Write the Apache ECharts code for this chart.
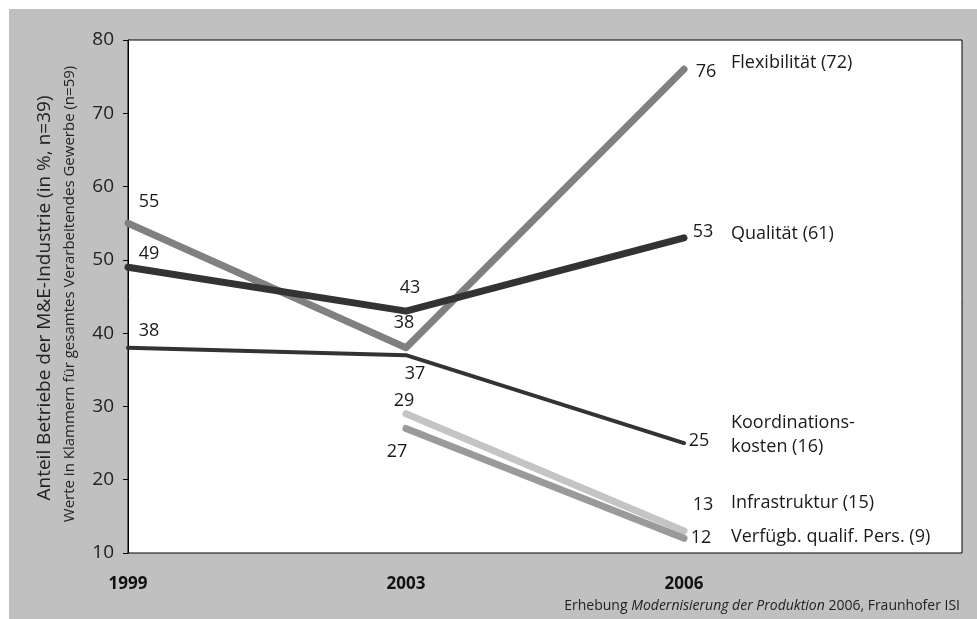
<!DOCTYPE html>
<html>
<head>
<meta charset="utf-8">
<script src="https://cdn.jsdelivr.net/npm/echarts@6/dist/echarts.min.js"></script>
<style>
html,body{margin:0;padding:0;background:#fff;}
#chart{width:977px;height:619px;}
</style>
</head>
<body>
<div id="chart"></div>
<script>
// ---- data ----
var years = ['1999', '2003', '2006'];
var yTicks = [10, 20, 30, 40, 50, 60, 70, 80];
var flexibilitaet = [55, 38, 76];
var qualitaet = [49, 43, 53];
var koordination = [38, 37, 25];
var infrastruktur = [null, 29, 13];
var personal = [null, 27, 12];
var seriesNames = ['Flexibilität (72)', 'Qualität (61)', 'Koordinations-\nkosten (16)', 'Infrastruktur (15)', 'Verfügb. qualif. Pers. (9)'];

var FONT = '"Open Sans", "Noto Sans", sans-serif';

// label offsets per point (style, not data)
var labelOffsets = [
  [[21, -21], [-2, -25], [22, 3]],
  [[21, -13], [4, -23], [19, -6]],
  [[21, -17], [9, 19], [15, -2]],
  [null, [-2, -13], [19, -26]],
  [null, [-9, 23], [17, 0]]
];
var endOffsets = [[39, -6], [39, -4], [39, -8], [39, -28], [39, -1]];
var styles = [
  {color: '#808080', width: 7},
  {color: '#333333', width: 7},
  {color: '#333333', width: 4},
  {color: '#c4c4c4', width: 7},
  {color: '#9a9a9a', width: 7}
];
var allValues = [flexibilitaet, qualitaet, koordination, infrastruktur, personal];

function buildData(vals, si) {
  return vals.map(function (v, i) {
    if (v === null) return [i, null];
    var off = labelOffsets[si][i];
    return {
      value: [i, v],
      label: {show: true, position: 'inside', offset: off, formatter: String(v)}
    };
  });
}

var series = allValues.map(function (vals, si) {
  return {
    type: 'line',
    name: seriesNames[si],
    data: buildData(vals, si),
    connectNulls: false,
    symbol: 'circle',
    symbolSize: 1,
    showSymbol: true,
    itemStyle: {color: styles[si].color},
    lineStyle: {color: styles[si].color, width: styles[si].width, cap: 'round', join: 'round'},
    label: {color: '#1a1a1a', fontSize: 18, fontFamily: FONT},
    endLabel: {
      show: true,
      formatter: seriesNames[si],
      offset: endOffsets[si],
      color: '#1a1a1a',
      fontSize: 18,
      lineHeight: 24,
      fontFamily: FONT
    },
    emphasis: {disabled: true},
    animation: false
  };
});

var chart = echarts.init(document.getElementById('chart'));
chart.setOption({
  backgroundColor: '#ffffff',
  animation: false,
  grid: {
    left: 128, top: 40, right: 15, bottom: 66,
    show: true, backgroundColor: '#ffffff', borderColor: '#000', borderWidth: 1
  },
  xAxis: {
    type: 'value', min: 0, max: 3, interval: 1,
    axisLine: {show: false}, axisTick: {show: false}, splitLine: {show: false},
    axisLabel: {
      formatter: function (v) { return years[v] || ''; },
      fontWeight: 'bold', fontSize: 17, color: '#111', fontFamily: FONT, margin: 23
    }
  },
  yAxis: {
    type: 'value', min: yTicks[0], max: yTicks[yTicks.length - 1], interval: 10,
    axisLine: {show: true, lineStyle: {color: '#000', width: 1}},
    axisTick: {show: true, length: 5, lineStyle: {color: '#000'}},
    splitLine: {show: false},
    axisLabel: {fontSize: 19, color: '#222', fontFamily: FONT, margin: 14}
  },
  graphic: [
    {type: 'rect', z: -10, silent: true, shape: {x: 9, y: 9, width: 968, height: 610}, style: {fill: '#c0c0c0'}},
    {type: 'text', x: 45, y: 298, rotation: Math.PI / 2, silent: true,
      style: {text: 'Anteil Betriebe der M&E-Industrie (in %, n=39)', fontSize: 19, fontFamily: FONT, fill: '#222', align: 'center', verticalAlign: 'middle'}},
    {type: 'text', x: 70, y: 294, rotation: Math.PI / 2, silent: true,
      style: {text: 'Werte in Klammern für gesamtes Verarbeitendes Gewerbe (n=59)', fontSize: 15, fontFamily: FONT, fill: '#222', align: 'center', verticalAlign: 'middle'}},
    {type: 'text', x: 960, y: 606, silent: true,
      style: {
        text: '{n|Erhebung }{i|Modernisierung der Produktion}{n| 2006, Fraunhofer ISI}',
        align: 'right', verticalAlign: 'middle',
        rich: {
          n: {fontSize: 14, fontFamily: FONT, fill: '#222', color: '#222'},
          i: {fontSize: 14, fontFamily: FONT, fontStyle: 'italic', fill: '#222', color: '#222'}
        }
      }}
  ],
  series: series
});
</script>
</body>
</html>
